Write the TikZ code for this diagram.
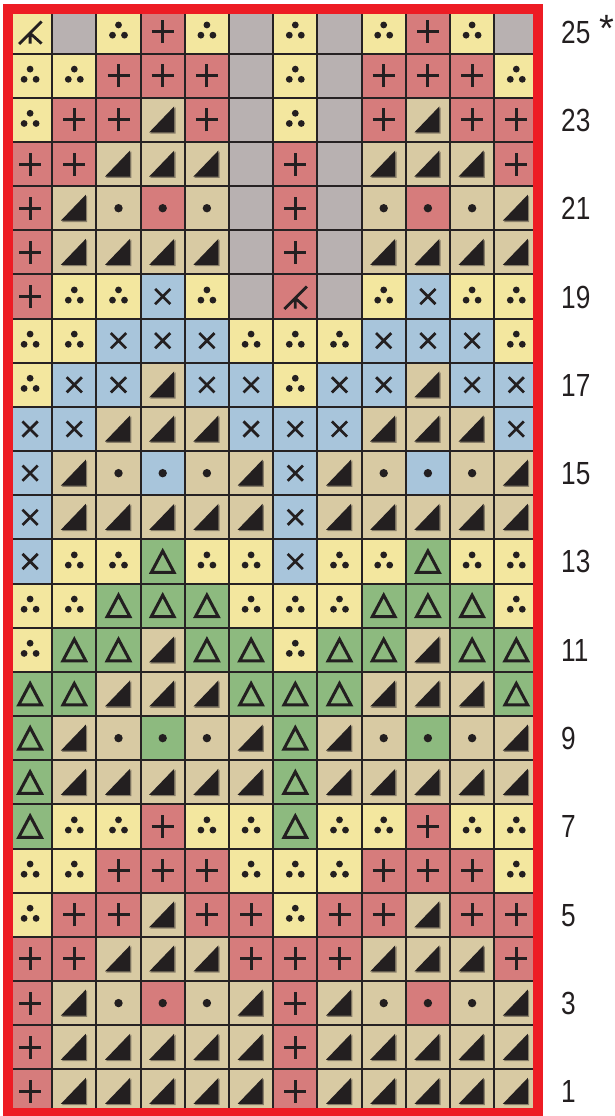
\documentclass[tikz,border=0pt]{standalone}
\usepackage{fontspec}
\newfontfamily\numfont[FakeStretch=0.82]{Liberation Sans}
\newfontfamily\astfont{Liberation Sans}
\definecolor{cY}{HTML}{F3E79F}
\definecolor{cG}{HTML}{B8B1B1}
\definecolor{cP}{HTML}{D67C7C}
\definecolor{cT}{HTML}{D8CAA3}
\definecolor{cB}{HTML}{A8C5DB}
\definecolor{cGr}{HTML}{8DBA7F}
\definecolor{ink}{HTML}{231F20}
\definecolor{gridc}{HTML}{262223}
\definecolor{bord}{HTML}{ED1C24}
\tikzset{
  cell/.style={draw=gridc, line width=2pt, minimum width=44.2pt, minimum height=44.16pt,
    inner sep=0pt, outer sep=0pt},
  at center/.style={shift={(path picture bounding box.center)}},
  dots3/.code={\fill[ink, at center] (0,6.6) circle (3.4) (-6,-3.6) circle (3.4) (6,-3.6) circle (3.4);},
  dot1/.code={\fill[ink, at center] (0,0) circle (4.2);},
  plussym/.code={\draw[ink, line width=3pt, at center] (-11,0) -- (11,0) (0,-11.5) -- (0,11.5);},
  crosssym/.code={\draw[ink, line width=2.7pt, at center] (-7.6,-7.6) -- (7.6,7.6) (-7.6,7.6) -- (7.6,-7.6);},
  wedgesym/.code={\fill[ink!45!cT, at center] (-12.5,-13.8) -- (12.8,-13.8) -- (12.8,12.5) -- cycle;
                  \fill[ink, at center] (-13.5,-12.5) -- (11.5,-12.5) -- (11.5,13.5) -- cycle;},
  trisym/.code={\draw[ink, line width=3pt, miter limit=10, at center] (0,10.5) -- (11.4,-11) -- (-11.4,-11) -- cycle;},
  forksym/.code={\draw[ink, line width=2.8pt, at center] (-11,-12.5) -- (11.5,10) (0,-1.7) -- (0,-12) (0,-1.7) -- (11.5,-12);},
  ya/.style={fill=cY, path picture={\pgfkeys{/tikz/dots3}}},
  gy/.style={fill=cG},
  pp/.style={fill=cP, path picture={\pgfkeys{/tikz/plussym}}},
  tt/.style={fill=cT, path picture={\pgfkeys{/tikz/wedgesym}}},
  td/.style={fill=cT, path picture={\pgfkeys{/tikz/dot1}}},
  pd/.style={fill=cP, path picture={\pgfkeys{/tikz/dot1}}},
  bx/.style={fill=cB, path picture={\pgfkeys{/tikz/crosssym}}},
  bd/.style={fill=cB, path picture={\pgfkeys{/tikz/dot1}}},
  ga/.style={fill=cGr, path picture={\pgfkeys{/tikz/trisym}}},
  gd/.style={fill=cGr, path picture={\pgfkeys{/tikz/dot1}}},
  yk/.style={fill=cY, path picture={\pgfkeys{/tikz/forksym}}},
  pk/.style={fill=cP, path picture={\pgfkeys{/tikz/forksym}}},
  lab/.style={anchor=base west, inner sep=0pt, text=ink, font=\numfont\fontsize{32}{32}\selectfont},
  redframe/.style={draw=bord, line width=10pt},
}
\begin{document}
\begin{tikzpicture}[x=1pt, y=1pt]
\useasboundingbox (0,0) rectangle (615,1116);
\foreach \rowlist [count=\i] in {
 {yk,gy,ya,pp,ya,gy,ya,gy,ya,pp,ya,gy},
 {ya,ya,pp,pp,pp,gy,ya,gy,pp,pp,pp,ya},
 {ya,pp,pp,tt,pp,gy,ya,gy,pp,tt,pp,pp},
 {pp,pp,tt,tt,tt,gy,pp,gy,tt,tt,tt,pp},
 {pp,tt,td,pd,td,gy,pp,gy,td,pd,td,tt},
 {pp,tt,tt,tt,tt,gy,pp,gy,tt,tt,tt,tt},
 {pp,ya,ya,bx,ya,gy,pk,gy,ya,bx,ya,ya},
 {ya,ya,bx,bx,bx,ya,ya,ya,bx,bx,bx,ya},
 {ya,bx,bx,tt,bx,bx,ya,bx,bx,tt,bx,bx},
 {bx,bx,tt,tt,tt,bx,bx,bx,tt,tt,tt,bx},
 {bx,tt,td,bd,td,tt,bx,tt,td,bd,td,tt},
 {bx,tt,tt,tt,tt,tt,bx,tt,tt,tt,tt,tt},
 {bx,ya,ya,ga,ya,ya,bx,ya,ya,ga,ya,ya},
 {ya,ya,ga,ga,ga,ya,ya,ya,ga,ga,ga,ya},
 {ya,ga,ga,tt,ga,ga,ya,ga,ga,tt,ga,ga},
 {ga,ga,tt,tt,tt,ga,ga,ga,tt,tt,tt,ga},
 {ga,tt,td,gd,td,tt,ga,tt,td,gd,td,tt},
 {ga,tt,tt,tt,tt,tt,ga,tt,tt,tt,tt,tt},
 {ga,ya,ya,pp,ya,ya,ga,ya,ya,pp,ya,ya},
 {ya,ya,pp,pp,pp,ya,ya,ya,pp,pp,pp,ya},
 {ya,pp,pp,tt,pp,pp,ya,pp,pp,tt,pp,pp},
 {pp,pp,tt,tt,tt,pp,pp,pp,tt,tt,tt,pp},
 {pp,tt,td,pd,td,tt,pp,tt,td,pd,td,tt},
 {pp,tt,tt,tt,tt,tt,pp,tt,tt,tt,tt,tt},
 {pp,tt,tt,tt,tt,tt,pp,tt,tt,tt,tt,tt}}{
  \pgfmathtruncatemacro\r{26-\i}
  \foreach \s [count=\c] in \rowlist {
    \node[cell,\s] (c\r-\c) at ({8+(\c-0.5)*44.2},{2.5+(\r-0.5)*44.16}) {};
  }
}
\draw[redframe] (c1-1.south west) rectangle (c25-12.north east);
\foreach \r in {1,3,...,25} {
  \node[lab] (l\r) at (561,{2.5+(\r-0.5)*44.16-11.5}) {\r};
}
\node[inner sep=0pt, text=ink, font=\astfont\fontsize{38}{38}\selectfont] (ast) at (607,1088) {*};
\end{tikzpicture}
\end{document}
